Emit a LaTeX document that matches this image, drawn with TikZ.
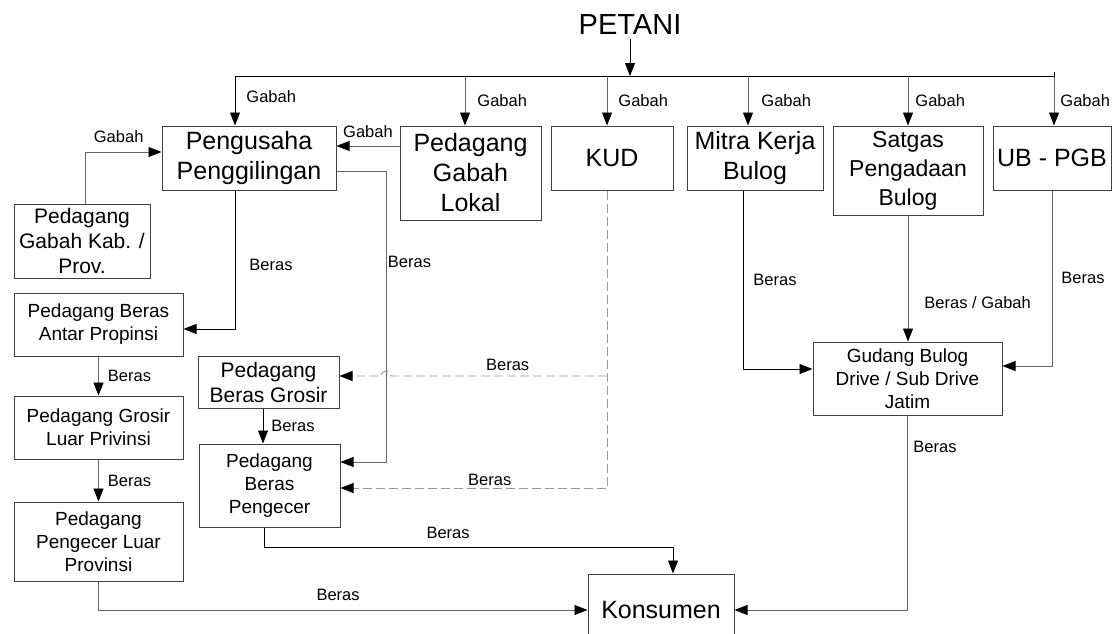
\documentclass[tikz,border=0pt]{standalone}
\usepackage{fontspec}
\setmainfont{Liberation Sans}
\usetikzlibrary{arrows.meta}

\tikzset{
  kotak/.style={draw=black!75, line width=1pt, align=center, inner sep=0pt},
  besar/.style={font=\fontsize{25}{30}\selectfont},
  sedang/.style={font=\fontsize{21}{25}\selectfont},
  kecil/.style={font=\fontsize{19}{23}\selectfont},
  ket/.style={font=\fontsize{16.5}{20}\selectfont, inner sep=2pt},
  panah/.style={-{Triangle[length=13pt,width=10pt,color=black]}, line width=0.9pt},
  abu/.style={draw=black!60},
  putus/.style={draw=black!40, dash pattern=on 9pt off 4pt},
}

\begin{document}
\begin{tikzpicture}[x=1pt,y=-1pt]
  \useasboundingbox[fill=white] (0,0) rectangle (1115,633);

  % kotak-kotak
  \node[font=\fontsize{29}{34}\selectfont] (petani) at (630,25) {PETANI};
  \node[kotak,besar,minimum width=174pt,minimum height=64pt] (peng) at (249,158) {Pengusaha\\Penggilingan};
  \node[kotak,besar,minimum width=141pt,minimum height=94pt] (lokal) at (470.5,173) {Pedagang\\Gabah\\Lokal};
  \node[kotak,besar,minimum width=122pt,minimum height=64pt] (kud) at (612,158) {KUD};
  \node[kotak,besar,minimum width=136pt,minimum height=64pt] (mitra) at (755,158) {Mitra Kerja\\Bulog};
  \node[kotak,font=\fontsize{23}{29}\selectfont,minimum width=150pt,minimum height=89pt] (satgas) at (908,170.5) {Satgas\\Pengadaan\\Bulog};
  \node[kotak,besar,minimum width=118pt,minimum height=64pt] (ubpgb) at (1052,158) {UB - PGB};
  \node[kotak,sedang,minimum width=136pt,minimum height=74pt] (kab) at (82,241) {Pedagang\\Gabah Kab. /\\Prov.};
  \node[kotak,kecil,minimum width=169pt,minimum height=63pt] (antar) at (98.5,324.5) {Pedagang Beras\\Antar Propinsi};
  \node[kotak,kecil,minimum width=169pt,minimum height=63pt] (grosluar) at (98.5,427.5) {Pedagang Grosir\\Luar Privinsi};
  \node[kotak,kecil,minimum width=169pt,minimum height=79pt] (ecerluar) at (98.5,541.5) {Pedagang\\Pengecer Luar\\Provinsi};
  \node[kotak,sedang,minimum width=141pt,minimum height=52pt] (grosir) at (268.5,382) {Pedagang\\Beras Grosir};
  \node[kotak,kecil,minimum width=141pt,minimum height=83pt] (ecer) at (269.5,485.5) {Pedagang\\Beras\\Pengecer};
  \node[kotak,kecil,minimum width=189pt,minimum height=73pt] (gudang) at (907.5,378.5) {Gudang Bulog\\Drive / Sub Drive\\Jatim};
  \node[kotak,besar,minimum width=146pt,minimum height=72pt] (konsumen) at (661,610) {Konsumen};

  % dari petani
  \coordinate (bus) at (630,76);
  \coordinate (ujung) at (1054,76);
  \coordinate (tPeng) at ([xshift=-14pt]peng.north);
  \coordinate (tLokal) at ([xshift=-5.5pt]lokal.north);
  \coordinate (tKud) at ([xshift=-5pt]kud.north);
  \coordinate (tMitra) at ([xshift=-7pt]mitra.north);
  \draw[panah] (petani) -- (bus);
  \draw[line width=0.9pt] (tPeng |- bus) -- (ujung) -- ++(0,-4);
  \draw[panah] (tPeng |- bus) -- node[ket,right,xshift=9pt,pos=0.42]{Gabah} (tPeng);
  \draw[panah,abu] (tLokal |- bus) -- node[ket,right,xshift=10pt]{Gabah} (tLokal);
  \draw[panah,abu] (tKud |- bus) -- node[ket,right,xshift=9pt]{Gabah} (tKud);
  \draw[panah,abu] (tMitra |- bus) -- node[ket,right,xshift=11pt]{Gabah} (tMitra);
  \draw[panah,abu] (satgas.north |- bus) -- node[ket,right,xshift=5pt]{Gabah} (satgas.north);
  \draw[panah,abu] (ujung) -- node[ket,right,xshift=4pt]{Gabah} (ujung |- ubpgb.north);

  % gabah ke penggilingan
  \coordinate (gPeng) at ([yshift=12pt]peng.east);
  \draw[panah,abu] (gPeng -| lokal.west) -- node[ket,above=6pt]{Gabah} (gPeng);
  \draw[panah,abu] ([xshift=3pt]kab.north) |- node[ket,above=7pt,pos=0.72]{Gabah} ([yshift=6pt]peng.west);

  % beras dari penggilingan
  \draw[panah] ([xshift=-14pt]peng.south) |- node[ket,right,xshift=12pt,pos=0.27]{Beras} ([yshift=-4.5pt]antar.east);
  \draw[panah,abu] ([yshift=-13pt]peng.east) -- ++(50,0) |- node[ket,right,xshift=-1pt,pos=0.156]{Beras} ([yshift=23.5pt]ecer.east);

  % beras dari KUD
  \coordinate (tKudB) at ([xshift=-5pt]kud.south);
  \coordinate (gGrosir) at ([yshift=6pt]grosir.east);
  \draw[panah,putus] (tKudB) |- node[ket,above,pos=0.72]{Beras} ([yshift=-2.5pt]ecer.east);
  \draw[panah,putus] (gGrosir -| tKudB) -- node[ket,above=3pt,pos=0.46]{Beras} ++(-216,0)
    arc[start angle=0,end angle=180,radius=5pt] -- (gGrosir);

  % grosir, pengecer
  \coordinate (tGrosir) at ([xshift=-5.5pt]grosir.south);
  \draw[panah] (tGrosir) -- node[ket,right,xshift=6pt]{Beras} (tGrosir |- ecer.north);
  \draw[panah] ([xshift=-5.5pt]ecer.south) -- ++(0,20) -| node[ket,above=6pt,pos=0.225]{Beras} ([xshift=12pt]konsumen.north);

  % luar provinsi
  \draw[panah,abu] (antar) -- node[ket,right,xshift=7pt]{Beras} (grosluar);
  \draw[panah,abu] (grosluar) -- node[ket,right,xshift=7pt]{Beras} (ecerluar);
  \draw[panah,abu] (ecerluar) |- node[ket,above=7pt,pos=0.745]{Beras} (konsumen);

  % bulog
  \draw[panah] ([xshift=-12pt]mitra.south) |- node[ket,right,xshift=8pt,pos=0.25]{Beras} ([yshift=9.5pt]gudang.west);
  \draw[panah,abu] (satgas.south) -- node[ket,right,xshift=14pt,pos=0.69]{Beras / Gabah} (satgas.south |- gudang.north);
  \draw[panah,abu] (ubpgb.south) |- node[ket,right,xshift=7pt,pos=0.25]{Beras} ([yshift=12.5pt]gudang.east);
  \draw[panah,abu] (gudang.south) |- node[ket,right,xshift=3.5pt,pos=0.08]{Beras} (konsumen.east);
\end{tikzpicture}
\end{document}
